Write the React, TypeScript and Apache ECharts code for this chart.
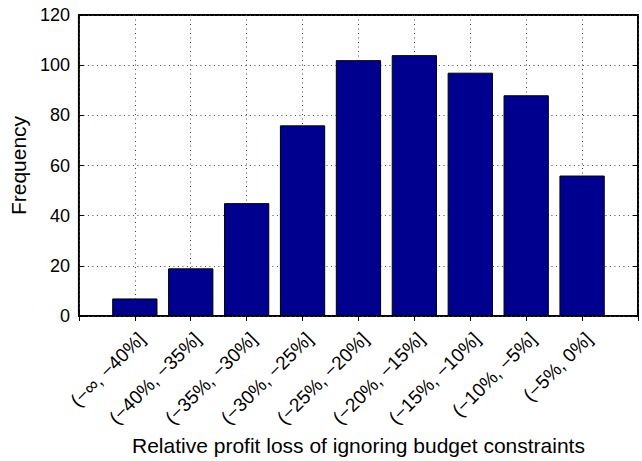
import React, { useEffect, useRef } from "react";
import * as echarts from "echarts";

// Loss buckets (relative profit loss)
const categories: string[] = [
  "(−∞, −40%]",
  "(−40%, −35%]",
  "(−35%, −30%]",
  "(−30%, −25%]",
  "(−25%, −20%]",
  "(−20%, −15%]",
  "(−15%, −10%]",
  "(−10%, −5%]",
  "(−5%, 0%]",
];
const frequency: number[] = [7, 19, 45, 76, 102, 104, 97, 88, 56];
const yTicks = { min: 0, max: 120, step: 20 };

const FONT = "Liberation Sans, Arial, Helvetica, sans-serif";

export default function App() {
  const ref = useRef<HTMLDivElement>(null);

  useEffect(() => {
    if (!ref.current) return;
    const chart = echarts.init(ref.current, undefined, { renderer: "svg" });

    // an empty slot at each end leaves half a bar of padding beside the outer bars
    const slots = ["", ...categories, ""];
    const values: (number | null)[] = [null, ...frequency, null];

    const dotted = { color: "#444", width: 1, type: [1, 3.5] as number[] };
    const tick = { show: true, inside: true, length: 5, lineStyle: { color: "#000", width: 1 } };

    chart.setOption({
      animation: false,
      grid: {
        left: 77,
        right: 4,
        top: 15,
        bottom: 145,
        show: true,
        borderColor: "#000",
        borderWidth: 2,
        backgroundColor: "transparent",
      },
      xAxis: [
        {
          type: "category",
          data: slots,
          boundaryGap: false,
          position: "bottom",
          name: "Relative profit loss of ignoring budget constraints",
          nameLocation: "middle",
          nameGap: 114,
          nameTextStyle: { fontFamily: FONT, fontSize: 21, color: "#000" },
          axisLine: { show: false },
          axisTick: { ...tick, interval: 0 },
          axisLabel: {
            interval: 0,
            rotate: 45,
            margin: 13,
            verticalAlign: "top",
            fontFamily: FONT,
            fontSize: 19,
            color: "#000",
          },
          splitLine: { show: true, interval: 0, lineStyle: dotted },
        },
        {
          type: "category",
          data: slots,
          boundaryGap: false,
          position: "top",
          axisLine: { show: false },
          axisTick: { ...tick, interval: 0 },
          axisLabel: { show: false },
          splitLine: { show: false },
        },
      ],
      yAxis: [
        {
          type: "value",
          min: yTicks.min,
          max: yTicks.max,
          interval: yTicks.step,
          position: "left",
          name: "Frequency",
          nameLocation: "middle",
          nameGap: 44,
          nameTextStyle: { fontFamily: FONT, fontSize: 21, color: "#000" },
          axisLine: { show: false },
          axisTick: tick,
          axisLabel: { margin: 9, fontFamily: FONT, fontSize: 18, color: "#000" },
          splitLine: { show: true, lineStyle: dotted },
        },
        {
          type: "value",
          min: yTicks.min,
          max: yTicks.max,
          interval: yTicks.step,
          position: "right",
          axisLine: { show: false },
          axisTick: tick,
          axisLabel: { show: false },
          splitLine: { show: false },
        },
      ],
      series: [
        {
          type: "bar",
          xAxisIndex: 0,
          yAxisIndex: 0,
          data: values,
          barWidth: "81%",
          itemStyle: { color: "#00008f", borderColor: "#000", borderWidth: 1 },
        },
      ],
    });

    return () => chart.dispose();
  }, []);

  return (
    <div
      ref={ref}
      style={{ position: "absolute", left: 0, top: 0, width: 642, height: 461, background: "#fff" }}
    />
  );
}
